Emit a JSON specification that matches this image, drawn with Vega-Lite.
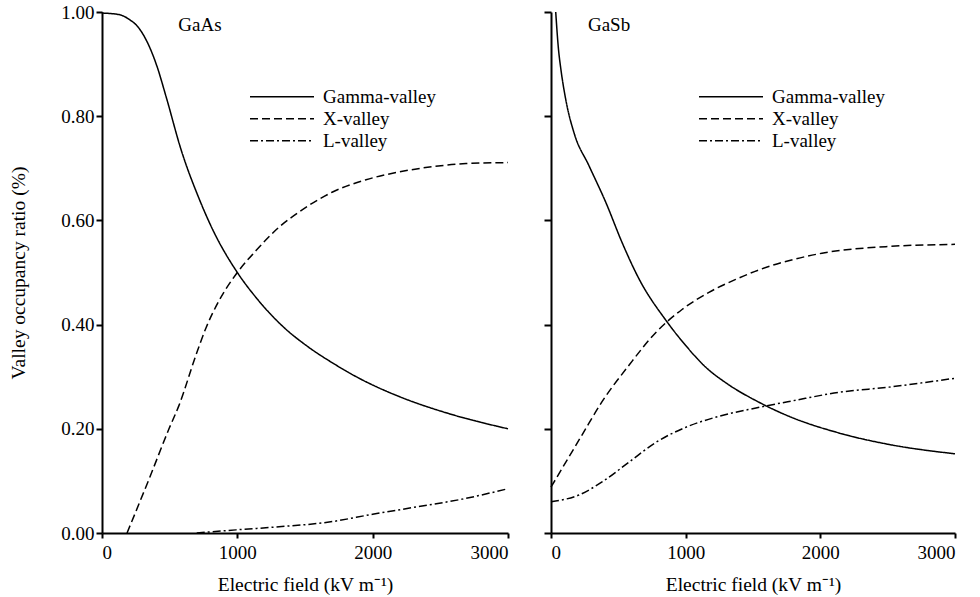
{
  "$schema": "https://vega.github.io/schema/vega-lite/v6.json",
  "background": "white",
  "padding": {"left": 8, "top": 3, "right": 5, "bottom": 5},
  "datasets": {
    "gaas": [
      {"series": "Gamma-valley", "E": 0, "ratio": 0.998},
      {"series": "Gamma-valley", "E": 126, "ratio": 0.995},
      {"series": "Gamma-valley", "E": 200, "ratio": 0.986},
      {"series": "Gamma-valley", "E": 273, "ratio": 0.969},
      {"series": "Gamma-valley", "E": 406, "ratio": 0.896},
      {"series": "Gamma-valley", "E": 473, "ratio": 0.838},
      {"series": "Gamma-valley", "E": 584, "ratio": 0.736},
      {"series": "Gamma-valley", "E": 717, "ratio": 0.642},
      {"series": "Gamma-valley", "E": 813, "ratio": 0.585},
      {"series": "Gamma-valley", "E": 1000, "ratio": 0.5},
      {"series": "Gamma-valley", "E": 1138, "ratio": 0.452},
      {"series": "Gamma-valley", "E": 1330, "ratio": 0.398},
      {"series": "Gamma-valley", "E": 1530, "ratio": 0.356},
      {"series": "Gamma-valley", "E": 1700, "ratio": 0.327},
      {"series": "Gamma-valley", "E": 1900, "ratio": 0.297},
      {"series": "Gamma-valley", "E": 2195, "ratio": 0.262},
      {"series": "Gamma-valley", "E": 2565, "ratio": 0.229},
      {"series": "Gamma-valley", "E": 3000, "ratio": 0.2},
      {"series": "X-valley", "E": 185, "ratio": 0},
      {"series": "X-valley", "E": 350, "ratio": 0.105},
      {"series": "X-valley", "E": 495, "ratio": 0.2},
      {"series": "X-valley", "E": 569, "ratio": 0.245},
      {"series": "X-valley", "E": 695, "ratio": 0.342},
      {"series": "X-valley", "E": 769, "ratio": 0.394},
      {"series": "X-valley", "E": 865, "ratio": 0.446},
      {"series": "X-valley", "E": 1000, "ratio": 0.5},
      {"series": "X-valley", "E": 1138, "ratio": 0.542},
      {"series": "X-valley", "E": 1308, "ratio": 0.587},
      {"series": "X-valley", "E": 1456, "ratio": 0.616},
      {"series": "X-valley", "E": 1530, "ratio": 0.629},
      {"series": "X-valley", "E": 1700, "ratio": 0.654},
      {"series": "X-valley", "E": 1951, "ratio": 0.678},
      {"series": "X-valley", "E": 2195, "ratio": 0.693},
      {"series": "X-valley", "E": 2439, "ratio": 0.703},
      {"series": "X-valley", "E": 2690, "ratio": 0.709},
      {"series": "X-valley", "E": 3000, "ratio": 0.711},
      {"series": "L-valley", "E": 700, "ratio": 0},
      {"series": "L-valley", "E": 990, "ratio": 0.006},
      {"series": "L-valley", "E": 1308, "ratio": 0.012},
      {"series": "L-valley", "E": 1678, "ratio": 0.021},
      {"series": "L-valley", "E": 2000, "ratio": 0.036},
      {"series": "L-valley", "E": 2300, "ratio": 0.049},
      {"series": "L-valley", "E": 2661, "ratio": 0.065},
      {"series": "L-valley", "E": 3000, "ratio": 0.085}
    ],
    "gasb": [
      {"series": "Gamma-valley", "E": 35, "ratio": 1.0},
      {"series": "Gamma-valley", "E": 55, "ratio": 0.93},
      {"series": "Gamma-valley", "E": 74, "ratio": 0.889},
      {"series": "Gamma-valley", "E": 111, "ratio": 0.83},
      {"series": "Gamma-valley", "E": 171, "ratio": 0.768},
      {"series": "Gamma-valley", "E": 282, "ratio": 0.705},
      {"series": "Gamma-valley", "E": 408, "ratio": 0.634},
      {"series": "Gamma-valley", "E": 527, "ratio": 0.558},
      {"series": "Gamma-valley", "E": 653, "ratio": 0.488},
      {"series": "Gamma-valley", "E": 854, "ratio": 0.408},
      {"series": "Gamma-valley", "E": 1000, "ratio": 0.36},
      {"series": "Gamma-valley", "E": 1150, "ratio": 0.318},
      {"series": "Gamma-valley", "E": 1300, "ratio": 0.288},
      {"series": "Gamma-valley", "E": 1544, "ratio": 0.251},
      {"series": "Gamma-valley", "E": 1767, "ratio": 0.224},
      {"series": "Gamma-valley", "E": 2138, "ratio": 0.192},
      {"series": "Gamma-valley", "E": 2509, "ratio": 0.17},
      {"series": "Gamma-valley", "E": 3000, "ratio": 0.152},
      {"series": "X-valley", "E": 0, "ratio": 0.088},
      {"series": "X-valley", "E": 230, "ratio": 0.188},
      {"series": "X-valley", "E": 379, "ratio": 0.252},
      {"series": "X-valley", "E": 579, "ratio": 0.322},
      {"series": "X-valley", "E": 779, "ratio": 0.385},
      {"series": "X-valley", "E": 973, "ratio": 0.429},
      {"series": "X-valley", "E": 1173, "ratio": 0.462},
      {"series": "X-valley", "E": 1374, "ratio": 0.487},
      {"series": "X-valley", "E": 1544, "ratio": 0.505},
      {"series": "X-valley", "E": 1800, "ratio": 0.525},
      {"series": "X-valley", "E": 2012, "ratio": 0.537},
      {"series": "X-valley", "E": 2509, "ratio": 0.55},
      {"series": "X-valley", "E": 3000, "ratio": 0.554},
      {"series": "L-valley", "E": 0, "ratio": 0.06},
      {"series": "L-valley", "E": 208, "ratio": 0.073},
      {"series": "L-valley", "E": 379, "ratio": 0.098},
      {"series": "L-valley", "E": 579, "ratio": 0.136},
      {"series": "L-valley", "E": 779, "ratio": 0.174},
      {"series": "L-valley", "E": 1002, "ratio": 0.203},
      {"series": "L-valley", "E": 1247, "ratio": 0.224},
      {"series": "L-valley", "E": 1522, "ratio": 0.24},
      {"series": "L-valley", "E": 1800, "ratio": 0.254},
      {"series": "L-valley", "E": 2138, "ratio": 0.27},
      {"series": "L-valley", "E": 2509, "ratio": 0.28},
      {"series": "L-valley", "E": 3000, "ratio": 0.297}
    ]
  },
  "config": {
    "font": "Liberation Serif",
    "view": {"stroke": null},
    "concat": {"spacing": 43},
    "axis": {
      "domainColor": "black",
      "domainWidth": 2,
      "tickColor": "black",
      "tickWidth": 2,
      "grid": false,
      "labelFont": "Liberation Serif",
      "labelFontSize": 19,
      "labelColor": "black",
      "titleFont": "Liberation Serif",
      "titleFontSize": 19.5,
      "titleFontWeight": "normal",
      "titleColor": "black"
    },
    "legend": {
      "labelFont": "Liberation Serif",
      "labelFontSize": 19,
      "labelColor": "black"
    }
  },
  "bounds": "flush",
  "resolve": {"scale": {"strokeDash": "independent", "x": "independent", "y": "independent"}, "legend": {"strokeDash": "independent"}},
  "hconcat": [
    {
      "width": 406,
      "height": 521,
      "data": {"name": "gaas"},
      "layer": [
        {
          "mark": {"type": "line", "color": "black", "strokeWidth": 1.5, "interpolate": "monotone"},
          "encoding": {
            "x": {"field": "E", "type": "quantitative", "scale": {"domain": [0, 3000], "nice": false},
              "axis": {"values": [0, 1000, 2000, 3000], "title": "Electric field (kV m⁻¹)", "tickSize": 5, "labelPadding": 5, "titlePadding": 13, "format": "d"}},
            "y": {"field": "ratio", "type": "quantitative", "scale": {"domain": [0, 1], "nice": false},
              "axis": {"values": [0, 0.2, 0.4, 0.6, 0.8, 1.0], "format": ".2f", "title": "Valley occupancy ratio (%)", "tickSize": 6, "labelPadding": 2, "titlePadding": 32}},
            "strokeDash": {"field": "series", "type": "nominal",
              "scale": {"domain": ["Gamma-valley", "X-valley", "L-valley"], "range": [[1, 0], [8, 4], [8, 3, 2, 3]]},
              "legend": {"title": null, "orient": "none", "legendX": 147, "legendY": 74, "padding": 0, "symbolType": "stroke", "symbolSize": 4096, "symbolStrokeWidth": 1.5, "symbolStrokeColor": "black", "clipHeight": 21.5, "rowPadding": 0, "labelOffset": 8}}
          }
        },
        {
          "transform": [{"filter": "datum.series == 'Gamma-valley' && datum.E == 3000"}],
          "mark": {"type": "text", "text": "GaAs", "font": "Liberation Serif", "fontSize": 19, "color": "black", "baseline": "middle", "align": "center"},
          "encoding": {"x": {"datum": 724}, "y": {"datum": 0.975}}
        }
      ]
    },
    {
      "width": 404,
      "height": 521,
      "data": {"name": "gasb"},
      "layer": [
        {
          "mark": {"type": "line", "color": "black", "strokeWidth": 1.5, "interpolate": "monotone"},
          "encoding": {
            "x": {"field": "E", "type": "quantitative", "scale": {"domain": [0, 3000], "nice": false},
              "axis": {"values": [0, 1000, 2000, 3000], "title": "Electric field (kV m⁻¹)", "tickSize": 5, "labelPadding": 5, "titlePadding": 13, "format": "d"}},
            "y": {"field": "ratio", "type": "quantitative", "scale": {"domain": [0, 1], "nice": false},
              "axis": {"values": [0, 0.2, 0.4, 0.6, 0.8, 1.0], "labels": false, "title": null, "tickSize": 7}},
            "strokeDash": {"field": "series", "type": "nominal",
              "scale": {"domain": ["Gamma-valley", "X-valley", "L-valley"], "range": [[1, 0], [8, 4], [8, 3, 2, 3]]},
              "legend": {"title": null, "orient": "none", "legendX": 147, "legendY": 74, "padding": 0, "symbolType": "stroke", "symbolSize": 4096, "symbolStrokeWidth": 1.5, "symbolStrokeColor": "black", "clipHeight": 21.5, "rowPadding": 0, "labelOffset": 8}}
          }
        },
        {
          "transform": [{"filter": "datum.series == 'Gamma-valley' && datum.E == 3000"}],
          "mark": {"type": "text", "text": "GaSb", "font": "Liberation Serif", "fontSize": 19, "color": "black", "baseline": "middle", "align": "center"},
          "encoding": {"x": {"datum": 431}, "y": {"datum": 0.975}}
        }
      ]
    }
  ]
}
